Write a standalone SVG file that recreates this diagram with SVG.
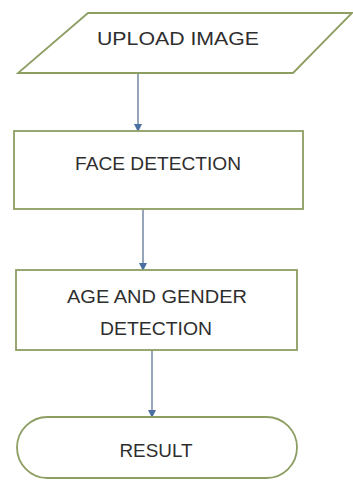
<svg xmlns="http://www.w3.org/2000/svg" width="353" height="480" viewBox="0 0 353 480">
<style>
.shape{fill:#ffffff;stroke:#8d9e63;stroke-width:1.8}
.lbl{font-family:"Liberation Sans","Open Sans",Arial,sans-serif;font-size:19px;fill:#2e2e2e;text-anchor:middle}
.conn{stroke:#6a7f9c;stroke-width:1.4;fill:none}
</style>
<defs>
<marker id="arr" markerWidth="8" markerHeight="8" refX="7" refY="4" orient="auto" markerUnits="userSpaceOnUse">
<path d="M0,0 L8,4 L0,8 z" fill="#4a6fa0"/>
</marker>
</defs>
<rect width="353" height="480" fill="#ffffff"/>
<g id="connectors">
<line class="conn" x1="138" y1="74" x2="138" y2="131" marker-end="url(#arr)"/>
<line class="conn" x1="143" y1="209" x2="143" y2="270" marker-end="url(#arr)"/>
<line class="conn" x1="152" y1="350" x2="152" y2="417" marker-end="url(#arr)"/>
</g>
<g id="upload">
<polygon class="shape" points="88,13 352,13 293,73 18,73"/>
<text class="lbl" x="178" y="45" textLength="162" lengthAdjust="spacingAndGlyphs">UPLOAD IMAGE</text>
</g>
<g id="face">
<rect class="shape" x="14" y="131" width="289" height="78"/>
<text class="lbl" x="158" y="170" textLength="166" lengthAdjust="spacingAndGlyphs">FACE DETECTION</text>
</g>
<g id="agegender">
<rect class="shape" x="16" y="270" width="281" height="80"/>
<text class="lbl" x="157" y="303" textLength="180" lengthAdjust="spacingAndGlyphs">AGE AND GENDER</text>
<text class="lbl" x="156" y="335" textLength="112" lengthAdjust="spacingAndGlyphs">DETECTION</text>
</g>
<g id="result">
<rect class="shape" x="17" y="417" width="280" height="61" rx="30.5" ry="30.5"/>
<text class="lbl" x="156" y="457" textLength="73" lengthAdjust="spacingAndGlyphs">RESULT</text>
</g>
</svg>
